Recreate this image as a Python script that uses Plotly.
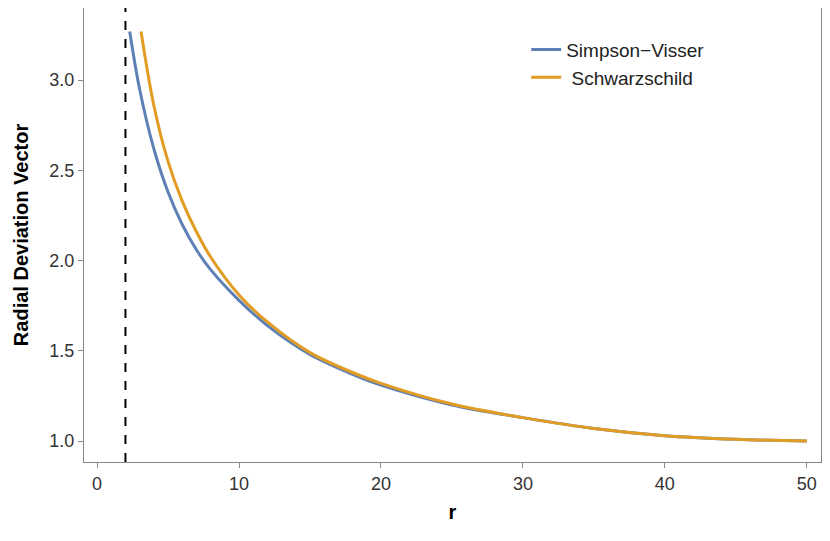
import plotly.graph_objects as go

r_sv = [2.3, 3, 4, 5, 6, 7, 8, 10, 12, 15, 18, 20, 25, 30, 35, 40, 45, 50]
y_sv = [3.27, 2.95, 2.62, 2.38, 2.2, 2.06, 1.95, 1.78, 1.64, 1.48, 1.37, 1.31, 1.2, 1.13, 1.07, 1.03, 1.01, 1.0]
r_sc = [3.1, 4, 5, 6, 7, 8, 10, 12, 15, 18, 20, 25, 30, 35, 40, 45, 50]
y_sc = [3.27, 2.86, 2.55, 2.33, 2.16, 2.02, 1.81, 1.66, 1.49, 1.38, 1.32, 1.205, 1.13, 1.07, 1.03, 1.01, 1.0]
horizon = 2

fig = go.Figure()
fig.add_trace(go.Scatter(x=r_sv, y=y_sv, mode="lines", name="Simpson\u2212Visser",
                         line=dict(color="#5E81B5", width=3, shape="spline")))
fig.add_trace(go.Scatter(x=r_sc, y=y_sc, mode="lines", name=" Schwarzschild",
                         line=dict(color="#E19C24", width=3, shape="spline")))
fig.add_vline(x=horizon, line=dict(color="black", width=2, dash="dash"))
ax = dict(showline=True, mirror=True, linecolor="#888", linewidth=1, ticks="outside",
          ticklen=5, tickcolor="#888", showgrid=False, zeroline=False,
          tickfont=dict(family="Liberation Sans", size=18, color="#333"))
fig.update_layout(
    width=830, height=541, plot_bgcolor="white", paper_bgcolor="white",
    margin=dict(l=76, r=17, t=0, b=87),
    xaxis=dict(**ax, range=[-0.92, 51], tickvals=[0, 10, 20, 30, 40, 50],
               title=dict(text="<b>r</b>", standoff=12, font=dict(family="Liberation Sans", size=20, color="black"))),
    yaxis=dict(**ax, range=[0.884, 3.4], tickvals=[1.0, 1.5, 2.0, 2.5, 3.0], tickformat=".1f",
               title=dict(text="<b>Radial Deviation Vector</b>", font=dict(family="Liberation Sans", size=20, color="black"))),
    legend=dict(x=0.6, y=0.95, xanchor="left", yanchor="top", tracegroupgap=8,
                font=dict(family="Liberation Sans", size=19, color="#222"), bgcolor="rgba(0,0,0,0)"),
)
fig.write_html("out.html")
